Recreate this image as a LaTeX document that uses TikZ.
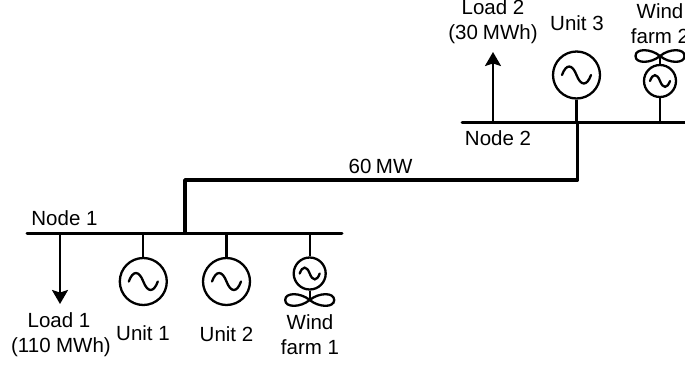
\documentclass[tikz,border=0pt]{standalone}
\usepackage{fontspec}
\setmainfont{Liberation Sans}
\usetikzlibrary{arrows.meta}
\tikzset{
  x=1pt,y=-1pt,
  bus/.style={line width=3pt,line cap=round,line join=round,black},
  tie/.style={line width=3.8pt,line join=round,black},
  stub/.style={line width=2.3pt,black},
  loadarrow/.style={line width=2.3pt,black,-{Stealth[length=14pt,width=16pt,inset=2.5pt]}},
  gen/.style={circle,draw,line width=2.3pt,minimum size=47pt,inner sep=0pt},
  wgen/.style={circle,draw,line width=2.3pt,minimum size=32pt,inner sep=0pt},
  lab/.style={inner sep=0pt,align=center,font=\fontsize{20.5pt}{25pt}\selectfont},
  wave/.style={line width=2.3pt,black,line cap=round},
  blade/.style={line width=2.3pt,black},
}
\newcommand{\sinewave}[2]{% node, half width
  \begin{scope}[shift={(#1.center)}]
  \draw[wave] (-#2,0) .. controls (-0.72*#2,-0.78*#2) and (-0.3*#2,-0.78*#2) .. (0,0) .. controls (0.3*#2,0.78*#2) and (0.72*#2,0.78*#2) .. (#2,0);
  \end{scope}}
\newcommand{\bladepair}[1]{% hub coordinate
  \begin{scope}[shift={(#1)}]
  \draw[blade] (0,0) .. controls (-9,-7.5) and (-24.5,-8) .. (-24.5,0) .. controls (-24.5,8) and (-9,7.5) .. (0,0)
     .. controls (9,-7.5) and (24.5,-8) .. (24.5,0) .. controls (24.5,8) and (9,7.5) .. (0,0);
  \end{scope}}
\begin{document}
\begin{tikzpicture}
\useasboundingbox (0,0) rectangle (685,365);
\clip (0,0) rectangle (685,365);
% buses
\coordinate (b1w) at (27,233.3);
\coordinate (b1e) at (342,233.3);
\coordinate (b2w) at (462,122.7);
\coordinate (b2e) at (690,122.7);
\coordinate (t1) at (185,233.3);
\coordinate (t2) at (185,180);
\coordinate (t3) at (577.5,180);
\coordinate (t4) at (577.5,122.7);
\draw[tie] (t1) -- (t2) -- (t3) -- (t4);
\draw[bus] (b1w) -- (b1e);
\draw[bus] (b2w) -- (b2e);
% generators
\node[gen] (u1) at (143.3,281.5) {};
\node[gen] (u2) at (226.5,281.5) {};
\node[gen] (u3) at (576.5,75) {};
\node[wgen] (w1) at (309.7,273.5) {};
\node[wgen] (w2) at (660,81) {};
\sinewave{u1}{14.5}
\sinewave{u2}{14.5}
\sinewave{u3}{14.5}
\sinewave{w1}{10}
\sinewave{w2}{10}
% stubs
\coordinate (s1) at (143.3,233.3);
\coordinate (s2) at (226.5,233.3);
\coordinate (s3) at (576.5,122.7);
\coordinate (s4) at (309.7,233.3);
\coordinate (s5) at (660,122.7);
\draw[stub] (s1) -- (u1);
\draw[stub] (s2) -- (u2);
\draw[stub] (s3) -- (u3);
\draw[stub] (s4) -- (w1);
\draw[stub] (s5) -- (w2);
% turbines
\coordinate (h1) at (309.7,300);
\coordinate (h2) at (660,56);
\draw[stub] (w1) -- (h1);
\draw[stub] (w2) -- (h2);
\bladepair{h1}
\bladepair{h2}
% loads
\coordinate (l1a) at (60,233.3);
\coordinate (l1b) at (60,304);
\coordinate (l2a) at (493,122.7);
\coordinate (l2b) at (493,52);
\draw[loadarrow] (l1a) -- (l1b);
\draw[loadarrow] (l2a) -- (l2b);
% labels
\node[lab] (n1) at (64.5,218.5) {Node 1};
\node[lab] (n2) at (498,138.5) {Node 2};
\node[lab] (fl) at (380.5,166.5) {60\hspace{4.5pt}MW};
\node[lab] (ll1) at (61,334.5) {Load 1\hspace*{4pt}\\(110\hspace{5.5pt}MWh)};
\node[lab] (ll2) at (493,22) {Load 2\\(30\hspace{5pt}MWh)};
\node[lab] (tu1) at (143,333.5) {Unit 1};
\node[lab] (tu2) at (226.5,334) {Unit 2};
\node[lab] (tu3) at (577,23) {Unit 3};
\node[lab] (tw1) at (310,334.5) {Wind\\farm 1};
\node[lab] (tw2) at (660,24) {Wind\\farm 2};
\end{tikzpicture}
\end{document}
